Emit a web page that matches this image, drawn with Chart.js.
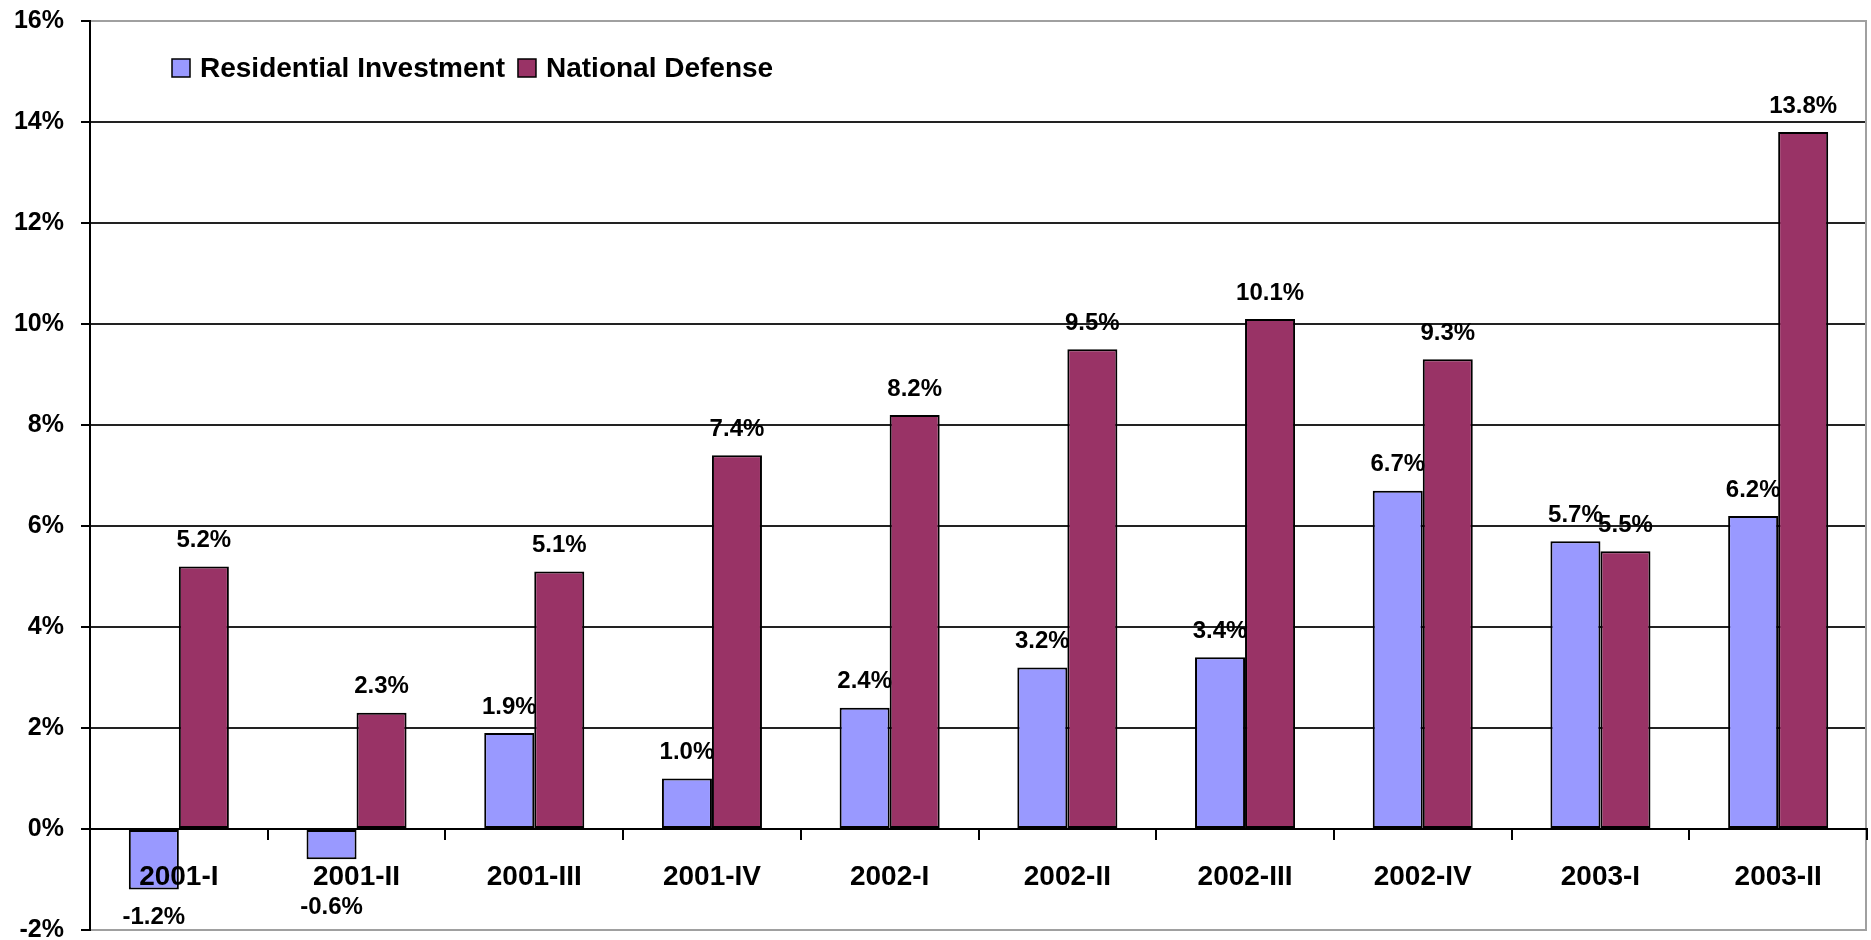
<!DOCTYPE html>
<html>
<head>
<meta charset="utf-8">
<script src="https://cdn.jsdelivr.net/npm/chart.js@4.4.1/dist/chart.umd.min.js"></script>
<style>
  html, body { margin: 0; padding: 0; background: #fff; }
  #wrap { width: 1871px; height: 940px; }
</style>
</head>
<body>
<div id="wrap"><canvas id="barChart"></canvas></div>
<script>
const quarters = ['2001-I', '2001-II', '2001-III', '2001-IV', '2002-I', '2002-II', '2002-III', '2002-IV', '2003-I', '2003-II'];
const residential = [-1.2, -0.6, 1.9, 1.0, 2.4, 3.2, 3.4, 6.7, 5.7, 6.2];
const defense = [5.2, 2.3, 5.1, 7.4, 8.2, 9.5, 10.1, 9.3, 5.5, 13.8];
const seriesNames = ['Residential Investment', 'National Defense'];
const seriesColors = ['#9999FF', '#993366'];

const FONT = '"Liberation Sans", Arial, sans-serif';

// value labels above (or below for negative) each bar
const valueLabels = {
  id: 'valueLabels',
  afterDatasetsDraw(chart) {
    const ctx = chart.ctx;
    const zeroY = chart.scales.y.getPixelForValue(0);
    ctx.save();
    ctx.font = 'bold 24px ' + FONT;
    ctx.fillStyle = '#000';
    ctx.textAlign = 'center';
    ctx.textBaseline = 'middle';
    chart.data.datasets.forEach((ds, di) => {
      chart.getDatasetMeta(di).data.forEach((bar, i) => {
        const v = ds.data[i];
        let y;
        if (v >= 0) {
          y = bar.y - 26;
        } else {
          y = bar.y + 28;
          // keep clear of the category labels under the zero line
          if (y - 12 < zeroY + 60) y = zeroY + 78;
        }
        ctx.fillText(v.toFixed(1) + '%', bar.x, y);
      });
    });
    ctx.restore();
  }
};

// right border of the plot area and the legend inside it
const frameAndLegend = {
  id: 'frameAndLegend',
  beforeDatasetsDraw(chart) {
    const {ctx, chartArea} = chart;
    ctx.save();
    ctx.strokeStyle = '#a0a0a0';
    ctx.lineWidth = 2;
    ctx.beginPath();
    ctx.moveTo(chartArea.right - 1, chartArea.top);
    ctx.lineTo(chartArea.right - 1, chartArea.bottom);
    ctx.stroke();
    ctx.restore();
  },
  afterDraw(chart) {
    const {ctx, chartArea} = chart;
    ctx.save();
    ctx.font = 'bold 28px ' + FONT;
    ctx.textBaseline = 'alphabetic';
    let x = chartArea.left + 82;
    const top = chartArea.top + 38;
    seriesNames.forEach((name, i) => {
      ctx.fillStyle = seriesColors[i];
      ctx.fillRect(x, top, 18, 18);
      ctx.strokeStyle = '#000';
      ctx.lineWidth = 1.5;
      ctx.strokeRect(x, top, 18, 18);
      ctx.fillStyle = '#000';
      ctx.fillText(name, x + 28, top + 18);
      x += 28 + ctx.measureText(name).width + 13;
    });
    ctx.restore();
  }
};

const data = {
  labels: quarters,
  datasets: [{
    label: seriesNames[0],
    data: residential,
    backgroundColor: seriesColors[0],
    borderColor: '#000',
    borderWidth: 2,
    borderSkipped: false,
  }, {
    label: seriesNames[1],
    data: defense,
    backgroundColor: seriesColors[1],
    borderColor: '#000',
    borderWidth: 2,
    borderSkipped: false,
  }]
};

const config = {
  type: 'bar',
  data: data,
  options: {
    responsive: true,
    maintainAspectRatio: false,
    animation: false,
    layout: { padding: { left: 14, top: 21, right: 4, bottom: 10 } },
    categoryPercentage: 0.563,
    barPercentage: 1.0,
    plugins: {
      legend: { display: false },
      tooltip: { enabled: false }
    },
    scales: {
      x: {
        position: { y: 0 },
        offset: true,
        afterFit: (s) => { s.paddingLeft = 0; s.paddingRight = 0; },
        grid: {
          offset: true,
          drawOnChartArea: false,
          drawTicks: true,
          tickLength: 10,
          tickColor: '#000',
          lineWidth: 2,
          z: 1
        },
        border: { display: true, color: '#000', width: 2, z: 1 },
        ticks: {
          z: 2,
          color: '#000',
          padding: 21,
          maxRotation: 0,
          autoSkip: false,
          font: { family: FONT, size: 28, weight: 'bold' }
        }
      },
      y: {
        min: -2,
        max: 16,
        afterFit: (s) => { s.width = 76; s.paddingTop = 0; s.paddingBottom = 0; },
        ticks: {
          stepSize: 2,
          color: '#000',
          padding: 17,
          font: { family: FONT, size: 25, weight: 'bold', lineHeight: 0.8 },
          callback: (v) => v + '%'
        },
        grid: {
          color: (c) => (c.tick && (c.tick.value === 16 || c.tick.value === -2)) ? '#a0a0a0' : '#222',
          lineWidth: 2,
          tickLength: 9,
          tickColor: '#000'
        },
        border: { display: true, color: '#000', width: 2 }
      }
    }
  },
  plugins: [valueLabels, frameAndLegend]
};

//eslint-disable-next-line
const barChart = new Chart(document.getElementById('barChart'), config);
</script>
</body>
</html>
